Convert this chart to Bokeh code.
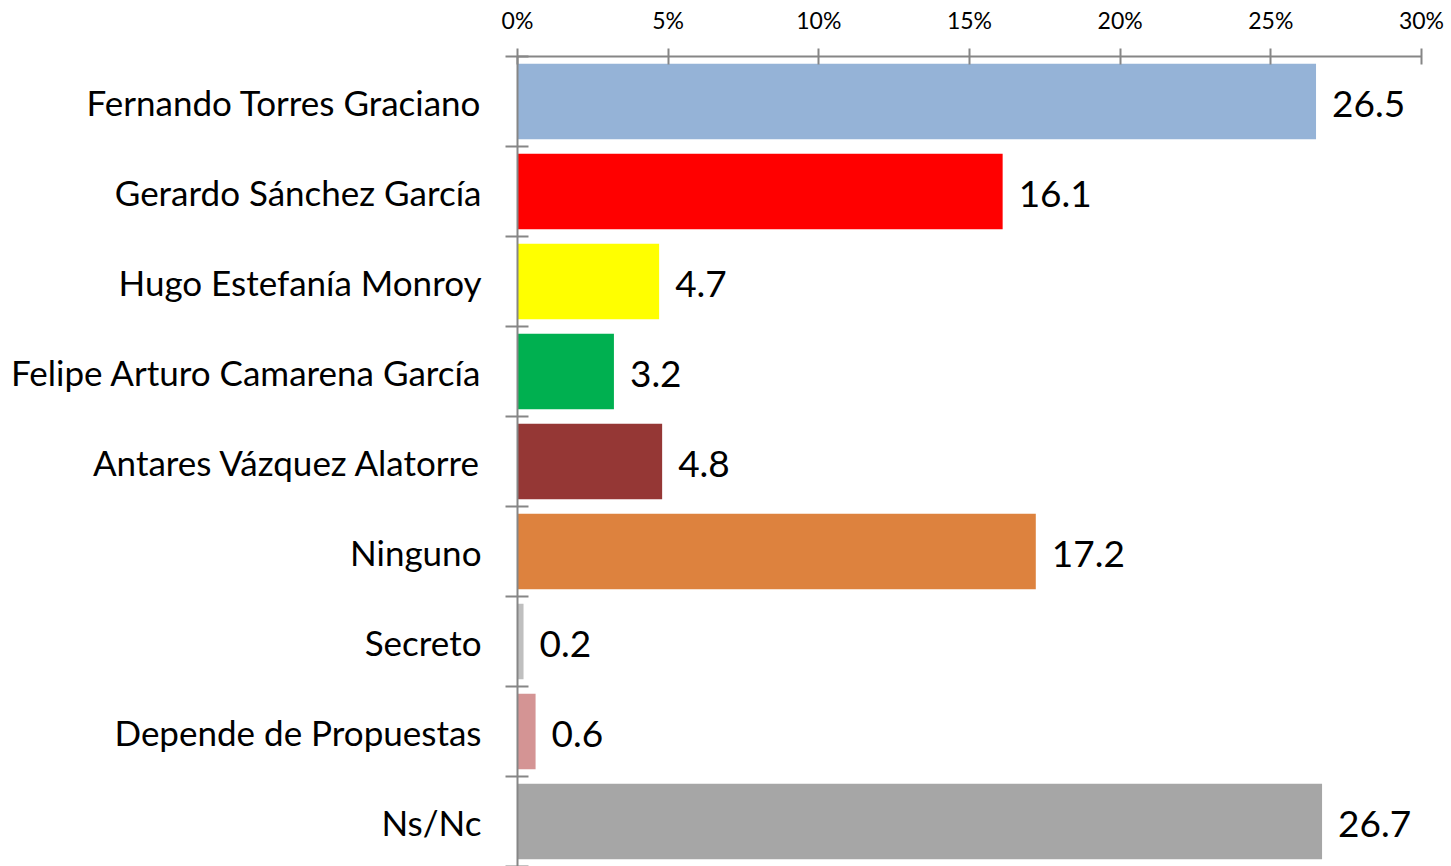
from bokeh.plotting import figure
from bokeh.models import Range1d, LinearAxis, FixedTicker, PrintfTickFormatter, ColumnDataSource
from bokeh.core.properties import value
from bokeh.embed import file_html
from bokeh.resources import INLINE

categories = ["Fernando Torres Graciano", "Gerardo Sánchez García", "Hugo Estefanía Monroy",
              "Felipe Arturo Camarena García", "Antares Vázquez Alatorre", "Ninguno",
              "Secreto", "Depende de Propuestas", "Ns/Nc"]
values = [26.5, 16.1, 4.7, 3.2, 4.8, 17.2, 0.2, 0.6, 26.7]
colors = ["#95B3D7", "#FF0000", "#FFFF00", "#00B050", "#953735", "#DD823E", "#BFBFBF", "#D49494", "#A6A6A6"]
x_ticks = [0, 5, 10, 15, 20, 25, 30]

FONT = "Lato"
n = len(categories)
centers = [i + 0.5 for i in range(n)]
bounds = list(range(n + 1))

src = ColumnDataSource(dict(y=centers, v=values, c=colors, lab=[f"{v:.1f}" for v in values]))

p = figure(width=1451, height=866, output_backend="svg", toolbar_location=None,
           x_range=Range1d(0, 30), y_range=Range1d(n, 0),
           x_axis_location=None, y_axis_location=None,
           min_border_left=517, min_border_right=30, min_border_top=56, min_border_bottom=0)
p.outline_line_color = None
p.xgrid.visible = False
p.ygrid.visible = False
p.background_fill_color = "white"
p.border_fill_color = "white"

p.hbar(y="y", left=0, right="v", height=0.84, fill_color="c", line_color=None, source=src)
p.text(x="v", y="y", text="lab", source=src, x_offset=16, y_offset=2, text_baseline="middle", text_align="left",
       text_font=value(FONT), text_font_size="37px", text_color="black")

xa = LinearAxis(ticker=FixedTicker(ticks=x_ticks), formatter=PrintfTickFormatter(format="%d%%"))
xa.axis_line_color = "#868686"
xa.axis_line_width = 2
xa.major_tick_line_color = "#868686"
xa.major_tick_line_width = 2
xa.major_tick_in = 8
xa.major_tick_out = 8
xa.minor_tick_line_color = None
xa.major_label_text_font = FONT
xa.major_label_text_font_size = "23px"
xa.major_label_text_color = "black"
xa.major_label_standoff = 15
p.add_layout(xa, "above")

ya = LinearAxis(ticker=FixedTicker(ticks=centers, minor_ticks=bounds),
                major_label_overrides={c: lab for c, lab in zip(centers, categories)})
ya.axis_line_color = "#868686"
ya.axis_line_width = 2
ya.major_tick_line_color = None
ya.major_tick_in = 0
ya.major_tick_out = 0
ya.minor_tick_line_color = "#868686"
ya.minor_tick_line_width = 2
ya.minor_tick_in = 11
ya.minor_tick_out = 12
ya.major_label_text_font = FONT
ya.major_label_text_font_size = "35px"
ya.major_label_text_color = "black"
ya.major_label_standoff = 24
p.add_layout(ya, "left")

open("out.html", "w").write(file_html(p, INLINE))
